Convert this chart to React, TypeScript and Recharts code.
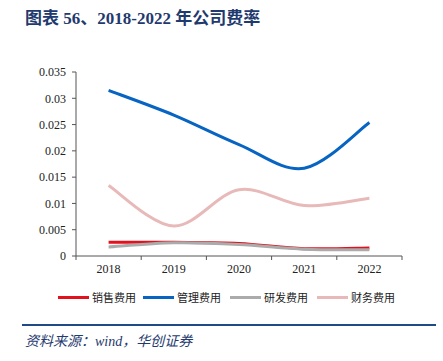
import React from "react";
import { LineChart, Line, XAxis, YAxis } from "recharts";

const years = ["2018", "2019", "2020", "2021", "2022"];
const sales = [0.0026, 0.0026, 0.0024, 0.0014, 0.0015];
const admin = [0.0315, 0.0268, 0.0212, 0.0167, 0.0254];
const rnd = [0.0017, 0.0025, 0.0022, 0.0013, 0.0012];
const finance = [0.0134, 0.0057, 0.0126, 0.0096, 0.011];
const yTicks = [0, 0.005, 0.01, 0.015, 0.02, 0.025, 0.03, 0.035];

const seriesNames = ["销售费用", "管理费用", "研发费用", "财务费用"];
const seriesKeys = ["sales", "admin", "rnd", "finance"];
const colors = ["#E3101E", "#0764C2", "#ABABAB", "#E8B9B9"];

const data = years.map((y, i) => ({
  year: y,
  sales: sales[i],
  admin: admin[i],
  rnd: rnd[i],
  finance: finance[i],
}));

const CHART_W = 443;
const M = { top: 72, right: 41, bottom: 34, left: 16 };
const Y_W = 60;
const HALF_BAND = (CHART_W - M.left - Y_W - M.right) / years.length / 2;

// Excel-like smoothed line (uniform Catmull-Rom)
const smoothCurve: any = (context: any) => {
  let pts: number[][] = [];
  return {
    areaStart() {},
    areaEnd() {},
    lineStart() {
      pts = [];
    },
    point(x: number, y: number) {
      pts.push([+x, +y]);
    },
    lineEnd() {
      if (!pts.length) return;
      context.moveTo(pts[0][0], pts[0][1]);
      for (let i = 0; i < pts.length - 1; i++) {
        const p0 = pts[i - 1] || pts[i];
        const p1 = pts[i];
        const p2 = pts[i + 1];
        const p3 = pts[i + 2] || p2;
        context.bezierCurveTo(
          p1[0] + (p2[0] - p0[0]) / 6,
          p1[1] + (p2[1] - p0[1]) / 6,
          p2[0] - (p3[0] - p1[0]) / 6,
          p2[1] - (p3[1] - p1[1]) / 6,
          p2[0],
          p2[1]
        );
      }
    },
  };
};

const XTick = (props: any) => {
  const { x, y, payload, index } = props;
  return (
    <g>
      <line x1={x - HALF_BAND} x2={x - HALF_BAND} y1={y} y2={y + 4} stroke="#555" strokeWidth={1} />
      {index === years.length - 1 && (
        <line x1={x + HALF_BAND} x2={x + HALF_BAND} y1={y} y2={y + 4} stroke="#555" strokeWidth={1} />
      )}
      <text
        x={x}
        y={y + 17}
        textAnchor="middle"
        fontSize={12}
        fontFamily="Liberation Serif, serif"
        fill="#222"
      >
        {payload.value}
      </text>
    </g>
  );
};

const LegendBlock = () => (
  <div style={{ position: "absolute", left: 0, top: 289, width: 443, height: 20 }}>
    {seriesNames.map((n, i) => {
      const lx = [58, 143, 230, 317][i];
      return (
        <div key={n} style={{ position: "absolute", left: lx, top: 0, display: "flex", alignItems: "center" }}>
          <div style={{ width: 31, height: 3, background: colors[i] }} />
          <span
            style={{
              marginLeft: 3,
              fontSize: 11,
              fontFamily: "Noto Sans CJK SC, sans-serif",
              color: "#222",
              lineHeight: "16px",
            }}
          >
            {n}
          </span>
        </div>
      );
    })}
  </div>
);

export default function App() {
  return (
    <div style={{ position: "absolute", left: 0, top: 0, width: 443, height: 361, background: "#fff" }}>
      <div
        style={{
          position: "absolute",
          left: 25,
          top: 4,
          fontSize: 17,
          fontWeight: "bold",
          color: "#1F3A6E",
          fontFamily: "Liberation Serif, Noto Sans CJK SC, serif",
          whiteSpace: "nowrap",
        }}
      >
        图表 56、2018-2022 年公司费率
      </div>
      <div style={{ position: "absolute", left: 0, top: 0 }}>
        <LineChart width={CHART_W} height={320} data={data} margin={M}>
          <XAxis
            dataKey="year"
            axisLine={{ stroke: "#555" }}
            tickLine={false}
            tickSize={0}
            tickMargin={0}
            tick={<XTick />}
            interval={0}
            height={30}
            padding={{ left: HALF_BAND, right: HALF_BAND }}
          />
          <YAxis
            domain={[0, 0.035]}
            ticks={yTicks}
            interval={0}
            width={Y_W}
            axisLine={{ stroke: "#555" }}
            tickLine={{ stroke: "#555" }}
            tickSize={4}
            tickMargin={6}
            tick={{ fontSize: 12, fontFamily: "Liberation Serif, serif", fill: "#222" }}
          />
          {seriesKeys.map((k, i) => (
            <Line
              key={k}
              dataKey={k}
              name={seriesNames[i]}
              type={smoothCurve}
              stroke={colors[i]}
              strokeWidth={3}
              dot={false}
              activeDot={false}
              isAnimationActive={false}
            />
          ))}
        </LineChart>
      </div>
      <LegendBlock />
      <div
        style={{
          position: "absolute",
          left: 22,
          top: 324,
          width: 414,
          height: 2,
          background: "#1F4A85",
        }}
      />
      <div
        style={{
          position: "absolute",
          left: 25,
          top: 330,
          fontSize: 14,
          fontStyle: "italic",
          color: "#1F3A6E",
          fontFamily: "Liberation Serif, Noto Sans CJK SC, serif",
          whiteSpace: "nowrap",
        }}
      >
        资料来源：wind，华创证券
      </div>
    </div>
  );
}
